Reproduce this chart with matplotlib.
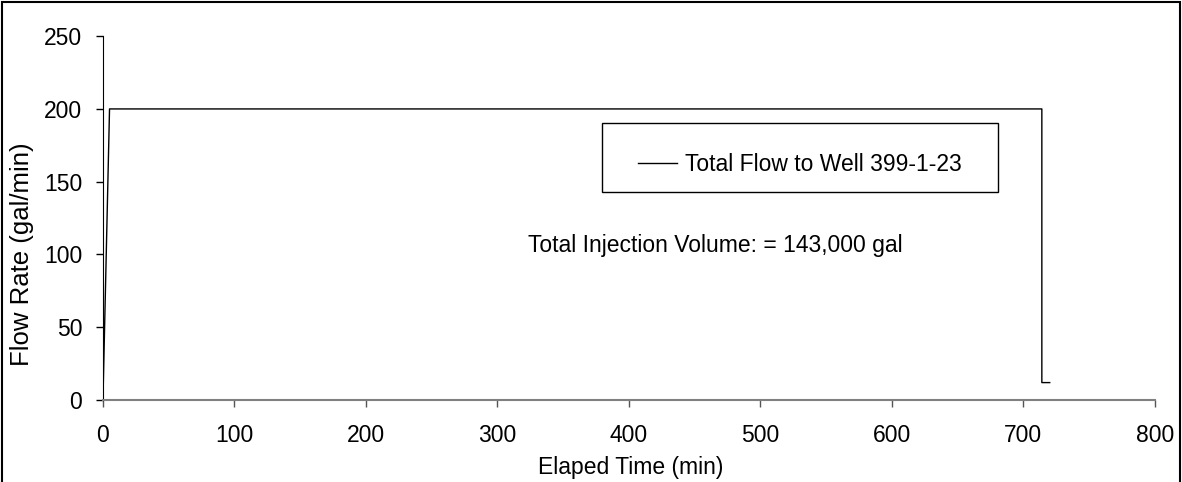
import matplotlib.pyplot as plt
from matplotlib.patches import Rectangle

plt.rcParams['font.family'] = ['Liberation Sans', 'DejaVu Sans']

# flow record (elapsed minutes, gal/min)
elapsed_min = [0, 5, 714, 714, 720]
flow_gpm = [0, 200, 200, 12, 12]

series_label = 'Total Flow to Well 399-1-23'
note_text = 'Total Injection Volume: = 143,000 gal'
x_ticks = [0, 100, 200, 300, 400, 500, 600, 700, 800]
y_ticks = [0, 50, 100, 150, 200, 250]

fig = plt.figure(figsize=(11.82, 4.82), dpi=100)
ax = fig.add_axes([0.0871, 0.170, 0.890, 0.755])

ax.plot(elapsed_min, flow_gpm, color='black', linewidth=1.0, label=series_label)

ax.set_xlim(0, 800)
ax.set_ylim(0, 250)
ax.set_xticks(x_ticks)
ax.set_yticks(y_ticks)
ax.tick_params(labelsize=16.5, direction='out', length=5, width=1)
ax.tick_params(axis='x', color='#555555', pad=12)
ax.tick_params(axis='y', pad=10)

for side in ['top', 'right']:
    ax.spines[side].set_visible(False)
ax.spines['left'].set_color('black')
ax.spines['bottom'].set_color('#808080')
ax.spines['bottom'].set_linewidth(1.5)

ax.set_xlabel('Elaped Time (min)', fontsize=16.5)
ax.set_ylabel('Flow Rate (gal/min)', fontsize=18.5)
ax.xaxis.set_label_coords(0.502, -0.155)
ax.yaxis.set_label_coords(-0.066, 0.40)

ax.text(323, 106, note_text, fontsize=16.5, va='center', ha='left')

# legend with a hand-placed frame like the original
ax.legend(loc='center', bbox_to_anchor=(0.6625, 0.648), frameon=False,
          fontsize=16.5, handlelength=1.7, handletextpad=0.36)
ax.add_patch(Rectangle((0.474, 0.571), 0.377, 0.19, transform=ax.transAxes,
                       fill=False, edgecolor='black', linewidth=1.0))

# outer chart border
fig.add_artist(Rectangle((0.002, -0.01), 0.996, 1.006, transform=fig.transFigure,
                         fill=False, edgecolor='black', linewidth=1.5))

fig.savefig('out.png', dpi=100)
